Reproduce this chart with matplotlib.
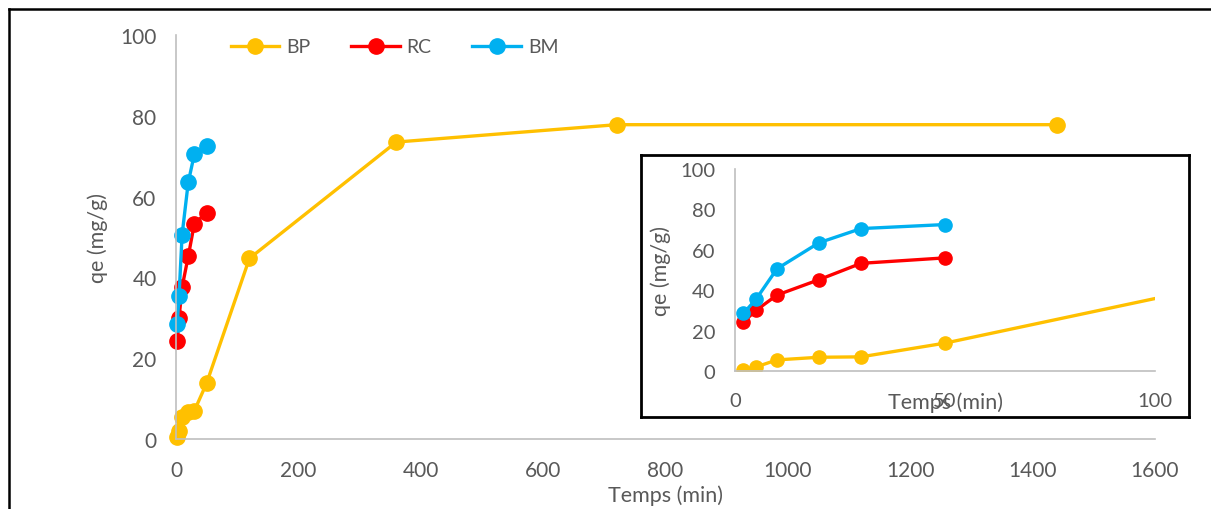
import matplotlib
matplotlib.use("Agg")
import matplotlib.pyplot as plt
from matplotlib.lines import Line2D

plt.rcParams['font.family'] = ['Lato', 'DejaVu Sans']

# Data
t_bp = [2, 5, 10, 20, 30, 50, 120, 360, 720, 1440]
q_bp = [0.5, 2.0, 5.5, 6.8, 7.0, 13.8, 44.7, 73.5, 77.8, 77.8]
t_rc = [2, 5, 10, 20, 30, 50]
q_rc = [24.3, 30.0, 37.6, 45.2, 53.3, 56.0]
t_bm = [2, 5, 10, 20, 30, 50]
q_bm = [28.5, 35.5, 50.6, 63.5, 70.5, 72.5]

main_xticks = [0, 200, 400, 600, 800, 1000, 1200, 1400, 1600]
yticks = [0, 20, 40, 60, 80, 100]
inset_xticks = [0, 50, 100]

series = [("BP", t_bp, q_bp, "#FFC000"),
          ("RC", t_rc, q_rc, "#FF0000"),
          ("BM", t_bm, q_bm, "#00B0F0")]

W, H = 1211, 510
fig = plt.figure(figsize=(W / 100, H / 100), dpi=100)
gray = "#595959"
axcol = "#BFBFBF"

def fx(px):
    return px / W

def fy(py):
    return 1 - py / H

# Outer border
fig.add_artist(Line2D([fx(9), 1.0], [fy(10), fy(10)], color="black", lw=1.8, transform=fig.transFigure))
fig.add_artist(Line2D([fx(9), fx(9)], [fy(10), 0.0], color="black", lw=1.8, transform=fig.transFigure))

# Main axes
ax = fig.add_axes([fx(176), fy(440), fx(1155) - fx(176), fy(36) - fy(440)])
for name, t, q, c in series:
    ax.plot(t, q, color=c, lw=2.4, marker="o", ms=11, label=name, clip_on=False)
ax.set_xlim(0, 1600)
ax.set_ylim(0, 100)
ax.set_xticks(main_xticks)
ax.set_yticks(yticks)
for s in ["top", "right"]:
    ax.spines[s].set_visible(False)
for s in ["left", "bottom"]:
    ax.spines[s].set_color(axcol)
    ax.spines[s].set_linewidth(1.2)
ax.tick_params(length=0, colors=gray, labelsize=15)
ax.tick_params(axis="y", pad=14)
ax.tick_params(axis="x", pad=15)
ax.set_xlabel("Temps (min)", fontsize=15.5, color=gray, labelpad=3)
ax.set_ylabel("qe (mg/g)", fontsize=15.5, color=gray, labelpad=9)
leg = ax.legend(loc="upper left", bbox_to_anchor=(0.038, 1.035), ncol=3, frameon=False,
                fontsize=14, labelcolor=gray, handlelength=2.5, columnspacing=2.1,
                markerscale=1.0, handletextpad=0.35)

# Inset box
box = fig.add_axes([fx(641), fy(418), fx(1189) - fx(641), fy(156) - fy(418)])
box.set_xticks([])
box.set_yticks([])
for s in box.spines.values():
    s.set_color("black")
    s.set_linewidth(2)
box.set_facecolor("white")

# Inset axes
ins = fig.add_axes([fx(735), fy(372), fx(1155) - fx(735), fy(170) - fy(372)])
ins.patch.set_alpha(0)
for name, t, q, c in series:
    ins.plot(t, q, color=c, lw=2.4, marker="o", ms=9.5)
ins.set_xlim(0, 100)
ins.set_ylim(0, 100)
ins.set_xticks(inset_xticks)
ins.set_yticks(yticks)
for s in ["top", "right"]:
    ins.spines[s].set_visible(False)
for s in ["left", "bottom"]:
    ins.spines[s].set_color(axcol)
    ins.spines[s].set_linewidth(1.2)
ins.tick_params(length=0, colors=gray, labelsize=14.5)
ins.tick_params(axis="y", pad=14)
ins.tick_params(axis="x", pad=15)
ins.set_ylabel("qe (mg/g)", fontsize=15.5, color=gray, labelpad=7)
fig.text(fx(945), fy(403), "Temps (min)", fontsize=15.5, color=gray, ha="center", va="center")

fig.savefig("out.png", dpi=100)
